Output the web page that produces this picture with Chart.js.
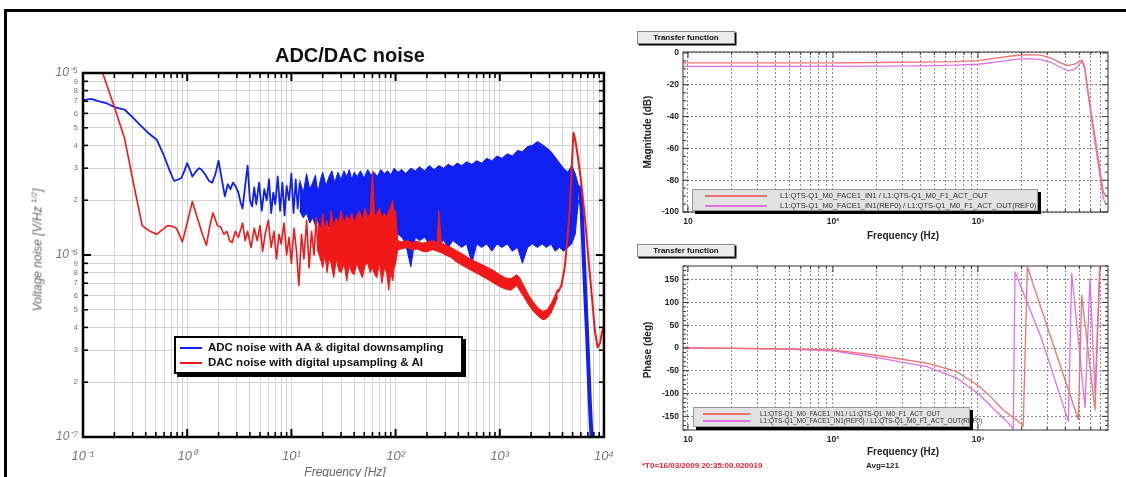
<!DOCTYPE html>
<html lang="en">
<head>
<meta charset="utf-8">
<title>ADC/DAC noise and transfer function</title>
<script src="https://cdn.jsdelivr.net/npm/chart.js@4.4.1/dist/chart.umd.min.js"></script>
<style>
  html, body { margin: 0; padding: 0; background: #fff; }
  body { position: relative; width: 1126px; height: 477px; overflow: hidden;
         font-family: "Liberation Sans", Arial, Helvetica, sans-serif; }
  canvas, .txt, .box { position: absolute; }
  #frame { position: absolute; left: 4px; top: 9px; width: 1200px; height: 600px;
           border-left: 3px solid #000; border-top: 3px solid #000; }
  #noise { left: 0; top: 0; }
  #mag { left: 620px; top: 20px; }
  #phase { left: 620px; top: 240px; }
  .txt { white-space: nowrap; line-height: 1; }
  .rot { transform: translate(-50%, -50%) rotate(-90deg); }
  .cx { transform: translateX(-50%); }
  #title { left: 200px; width: 300px; top: 45px; text-align: center; font-weight: bold; font-size: 20px; color: #111; }
  #noiseY { left: 37px; top: 250px; font-style: italic; font-size: 12px; color: #666; }
  #noiseY sup { font-size: 8px; }
  #noiseX { left: 345px; top: 466px; font-style: italic; font-size: 12px; color: #666; }
  .row { position: relative; white-space: nowrap; }
  .sw { display: inline-block; vertical-align: middle; }
  #noiseLegend { left: 174px; top: 336px; width: 285px; height: 32px; padding-top: 2px; border: 2px solid #000;
                 background: #fff; box-shadow: 3px 3px 0 #000; font-weight: bold; font-size: 11.5px; color: #111; }
  #noiseLegend .row { height: 15px; line-height: 15px; }
  #noiseLegend .sw { width: 22px; height: 2px; margin: 0 6px 0 4px; }
  .tfbtn { left: 637px; width: 96px; height: 11px; line-height: 11px; background: #ececec; border: 1px solid #888;
           box-shadow: 1.5px 1.5px 0 #000; font-weight: bold; font-size: 8px; text-align: center; color: #111; }
  .tflab { font-weight: bold; font-size: 10px; color: #222; }
  #magLegend { left: 692px; top: 189px; width: 344px; height: 19px; padding-top: 1px; background: #e2e2e2;
               border: 1px solid #999; box-shadow: 3px 3px 0 #000; font-size: 7.5px; color: #333; }
  #magLegend .row { height: 10px; line-height: 10px; }
  #magLegend .sw { width: 62px; height: 1.5px; margin: 0 13px 0 12px; }
  #phaseLegend { left: 693px; top: 407px; width: 275px; height: 16px; padding-top: 1.5px; background: #e2e2e2;
                 border: 1px solid #999; box-shadow: 3px 3px 0 #000; font-size: 6.5px; color: #333; }
  #phaseLegend .row { height: 7px; line-height: 7px; }
  #phaseLegend .sw { width: 47px; height: 1.5px; margin: 0 10px 0 9px; }
  #t0 { left: 642px; top: 462px; font-weight: bold; font-size: 8px; color: #ee2233; }
  #avg { left: 866px; top: 462px; font-weight: bold; font-size: 8px; color: #222; }
</style>
</head>
<body>
<div id="frame"></div>
<canvas id="noise" width="626" height="477"></canvas>
<canvas id="mag" width="506" height="220"></canvas>
<canvas id="phase" width="506" height="215"></canvas>

<div id="title" class="txt">ADC/DAC noise</div>
<div id="noiseY" class="txt rot">Voltage noise [V/Hz <sup>1/2</sup>]</div>
<div id="noiseX" class="txt cx">Frequency [Hz]</div>
<div id="noiseLegend" class="box">
  <div class="row"><span class="sw" style="background:#1020f0"></span>ADC noise with AA &amp; digital downsampling</div>
  <div class="row"><span class="sw" style="background:#f01818"></span>DAC noise with digital upsampling &amp; AI</div>
</div>

<div class="box tfbtn" style="top:31px">Transfer function</div>
<div class="box tfbtn" style="top:244px">Transfer function</div>
<div class="txt tflab rot" style="left:648px; top:132px">Magnitude (dB)</div>
<div class="txt tflab rot" style="left:648px; top:350px">Phase (deg)</div>
<div class="txt tflab cx" style="left:903px; top:231px">Frequency (Hz)</div>
<div class="txt tflab cx" style="left:903px; top:447px">Frequency (Hz)</div>
<div id="magLegend" class="box">
  <div class="row"><span class="sw" style="background:#f07070"></span>L1:QTS-Q1_M0_FACE1_IN1 / L1:QTS-Q1_M0_F1_ACT_OUT</div>
  <div class="row"><span class="sw" style="background:#e070e8"></span>L1:QTS-Q1_M0_FACE1_IN1(REF0) / L1:QTS-Q1_M0_F1_ACT_OUT(REF0)</div>
</div>
<div id="phaseLegend" class="box">
  <div class="row"><span class="sw" style="background:#f07070"></span>L1:QTS-Q1_M0_FACE1_IN1 / L1:QTS-Q1_M0_F1_ACT_OUT</div>
  <div class="row"><span class="sw" style="background:#e070e8"></span>L1:QTS-Q1_M0_FACE1_IN1(REF0) / L1:QTS-Q1_M0_F1_ACT_OUT(REF0)</div>
</div>
<div id="t0" class="txt">*T0=16/03/2009 20:35:00.020019</div>
<div id="avg" class="txt">Avg=121</div>

<script>
// ---- ADC/DAC noise (values in 1e-6 V/rtHz) ----
// ADC: sparse low-frequency part, dense band (upper/lower envelope), roll-off
const adcLineFreq = [0.1, 0.12, 0.14, 0.17, 0.2, 0.25, 0.3, 0.35, 0.42, 0.51,
  0.6, 0.68, 0.75, 0.82, 0.88, 0.94, 1.0, 1.06, 1.12, 1.2,
  1.3, 1.37, 1.5, 1.62, 1.74, 1.87, 2.0, 2.15, 2.3, 2.45,
  2.6, 2.75, 2.9, 3.1, 3.25, 3.4, 3.6, 3.8, 4.0, 4.2,
  4.4, 4.6, 4.9, 5.2, 5.5, 5.8, 6.1, 6.4, 6.7, 7.0,
  7.4, 7.8, 8.2, 8.6, 9.0, 9.5, 10, 10.5, 11, 11.5,
  12];
const adcLineVal = [7.1, 7.2, 7.0, 6.8, 6.5, 6.3, 5.7, 5.2, 4.7, 4.3,
  3.5, 2.9, 2.55, 2.6, 2.65, 2.9, 3.2, 2.95, 2.7, 2.85,
  3.0, 2.95, 2.75, 2.55, 2.5, 2.8, 3.3, 2.6, 2.1, 2.45,
  2.3, 2.5, 2.4, 2.2, 1.95, 1.8, 2.4, 3.1, 2.0, 1.85,
  2.35, 1.9, 2.5, 1.75, 2.3, 2.0, 2.6, 1.7, 2.2, 1.9,
  2.7, 1.75, 2.5, 1.65, 2.4, 2.0, 2.8, 1.7, 2.6, 1.8,
  2.5];
const adcBandFreq = [12, 13, 14, 15, 16, 17, 18, 19, 20, 21.5,
  23, 24.5, 26, 28, 30, 32, 34, 36, 38, 40,
  43, 46, 50, 54, 58, 62, 67, 72, 78, 84,
  90, 97, 105, 115, 125, 140, 155, 170, 190, 210,
  235, 260, 290, 320, 355, 390, 430, 480, 540, 600,
  670, 750, 840, 940, 1050, 1180, 1320, 1480, 1650, 1850,
  2050, 2300, 2550, 2800, 3100, 3400, 3750, 4100, 4500, 4900,
  5300, 5700];
const adcBandHigh = [2.6, 2.2, 2.8, 2.3, 2.5, 2.75, 2.2, 2.6, 2.85, 2.4,
  2.7, 2.9, 2.5, 2.85, 2.6, 2.9, 2.7, 2.95, 2.6, 2.85,
  2.7, 2.9, 2.65, 2.95, 2.75, 2.85, 2.7, 2.95, 2.8, 2.9,
  2.75, 3.0, 2.85, 2.95, 2.8, 3.0, 2.9, 3.05, 2.9, 3.1,
  2.95, 3.1, 3.0, 3.15, 3.05, 3.2, 3.1, 3.25, 3.15, 3.3,
  3.2, 3.4, 3.3, 3.5, 3.4, 3.6, 3.5, 3.75, 3.7, 3.95,
  4.0, 4.2, 4.05, 3.9, 3.7, 3.45, 3.2, 3.0, 2.85, 3.1,
  2.8, 2.4];
const adcBandLow = [1.75, 1.6, 1.7, 1.5, 1.6, 1.45, 1.55, 1.4, 1.5, 1.35,
  1.45, 1.3, 1.45, 1.35, 1.25, 1.4, 1.3, 1.45, 1.35, 1.25,
  1.4, 1.3, 1.35, 1.25, 1.4, 1.3, 1.2, 1.35, 1.25, 0.95,
  1.3, 1.2, 1.3, 1.25, 1.15, 0.86, 1.25, 1.2, 1.25, 1.15,
  1.2, 1.15, 1.2, 1.1, 1.2, 1.15, 1.1, 1.15, 0.9, 1.15,
  1.1, 1.15, 1.05, 1.15, 1.1, 1.15, 1.05, 1.1, 0.9, 1.1,
  1.15, 1.1, 1.15, 1.1, 1.15, 1.05, 1.1, 1.05, 1.1, 1.15,
  1.3, 2.0];
const adcRolloffFreq = [5700, 5900, 6100, 6300, 6500, 6700, 6900, 7100, 7300, 7500, 7650];
const adcRolloffVal = [2.4, 2.2, 1.8, 1.2, 0.78, 0.52, 0.36, 0.24, 0.16, 0.115, 0.095];

// DAC: low-frequency line, dense band, AI-filter peak
const dacLineFreq = [0.15, 0.2, 0.25, 0.3, 0.37, 0.44, 0.51, 0.58, 0.65, 0.72,
  0.79, 0.9, 1.0, 1.12, 1.25, 1.4, 1.53, 1.65, 1.77, 1.95,
  2.1, 2.25, 2.4, 2.55, 2.7, 2.9, 3.1, 3.4, 3.6, 3.8,
  4.1, 4.4, 4.7, 5.0, 5.3, 5.6, 6.0, 6.4, 6.8, 7.2,
  7.6, 8.0, 8.5, 9.0, 9.5, 10, 10.6, 11.2, 11.8, 12.5,
  13.2, 14, 14.8, 15.6, 16.5, 17.3, 18];
const dacLineVal = [10.5, 6.5, 4.4, 2.6, 1.45, 1.35, 1.3, 1.38, 1.45, 1.44,
  1.4, 1.18, 1.5, 1.97, 1.6, 1.3, 1.13, 1.45, 1.7, 1.45,
  1.42, 1.3, 1.35, 1.2, 1.17, 1.35, 1.25, 1.5, 1.2, 1.35,
  1.1, 1.4, 1.2, 1.45, 1.05, 1.3, 1.55, 1.1, 1.35, 0.95,
  1.3, 1.15, 1.5, 1.0, 1.25, 0.9, 1.4, 1.05, 0.68, 1.3,
  0.95, 1.55, 0.85, 1.35, 1.0, 1.6, 1.05];
const dacBandFreq = [18, 19, 20, 21, 22, 23, 24, 25.5, 27, 28.5,
  30, 32, 34, 36, 38, 40, 42.5, 45, 48, 51,
  54, 57, 60, 63, 66, 70, 74, 78, 82, 86,
  90, 94, 97, 100, 105, 115, 130, 145, 160, 180,
  200, 225, 250, 260, 275, 300, 340, 380, 430, 480,
  540, 610, 690, 780, 880, 1000, 1130, 1280, 1450, 1550,
  1700, 1900, 2100, 2350, 2600, 2850, 3100, 3350, 3600];
const dacBandHigh = [1.5, 1.35, 1.7, 1.4, 1.55, 1.3, 1.75, 1.45, 1.6, 1.5,
  1.75, 1.5, 1.65, 1.55, 1.7, 1.5, 1.65, 1.75, 1.55, 1.8,
  1.6, 1.7, 2.9, 1.6, 1.7, 1.8, 1.6, 1.7, 1.6, 1.75,
  1.85, 2.0, 1.7, 1.75, 1.2, 1.18, 1.2, 1.17, 1.19, 1.16,
  1.18, 1.2, 1.16, 1.75, 1.17, 1.14, 1.1, 1.06, 1.02, 0.98,
  0.94, 0.91, 0.88, 0.85, 0.82, 0.78, 0.75, 0.74, 0.78, 0.75,
  0.68, 0.6, 0.55, 0.51, 0.49, 0.5, 0.54, 0.59, 0.65];
const dacBandLow = [1.05, 0.95, 0.85, 1.0, 0.8, 0.95, 0.9, 0.75, 0.95, 0.82,
  0.8, 0.9, 0.72, 0.88, 0.8, 0.78, 0.9, 0.82, 0.75, 0.88,
  0.9, 0.8, 0.85, 0.78, 0.75, 0.9, 0.7, 0.85, 0.8, 0.64,
  0.8, 0.72, 0.85, 0.9, 1.07, 1.08, 1.1, 1.06, 1.08, 1.05,
  1.04, 1.07, 1.05, 1.04, 1.03, 1.0, 0.97, 0.92, 0.88, 0.85,
  0.82, 0.79, 0.76, 0.73, 0.7, 0.67, 0.65, 0.64, 0.68, 0.64,
  0.59, 0.53, 0.49, 0.46, 0.44, 0.45, 0.48, 0.53, 0.59];
const dacPeakFreq = [3600, 3900, 4200, 4500, 4700, 4900, 5100, 5300, 5600, 6000,
  6500, 7000, 7600, 8200, 8700, 9200, 9600, 10000];
const dacPeakVal = [0.62, 0.68, 0.85, 1.3, 1.8, 3.0, 4.7, 4.3, 3.5, 2.6,
  1.7, 1.05, 0.62, 0.38, 0.31, 0.33, 0.38, 0.4];

const noiseXDecades = [0.1, 1, 10, 100, 1000, 10000];
const noiseXLabels = ['10\u207B\u00B9', '10\u2070', '10\u00B9', '10\u00B2', '10\u00B3', '10\u2074'];
const noiseYDecades = [1e-7, 1e-6, 1e-5];
const noiseYLabels = ['10\u207B\u2077', '10\u207B\u2076', '10\u207B\u2075'];

// ---- Transfer function (measurement and REF0) ----
const magFreq = [9.24, 20, 50, 100, 200, 400, 700, 1000, 1400, 1800,
  2200, 2700, 3200, 3700, 4150, 4600, 4950, 5200, 5450, 5700,
  6100, 6600, 7000, 7300, 7600];
const magMeas = [-6.3, -6.3, -6.3, -6.2, -6.0, -5.8, -5.4, -4.8, -3.0, -1.6,
  -1.0, -1.4, -3.2, -6.2, -8.0, -7.2, -5.5, -4.5, -9, -22,
  -40, -60, -76, -87, -90];
const magRef = [-8.5, -8.5, -8.5, -8.4, -8.3, -8.1, -7.7, -7.1, -5.4, -4.0,
  -3.6, -4.2, -6.0, -9.0, -11.2, -10.5, -7.8, -5.2, -10, -24,
  -43, -64, -80, -91, -95];
const phaseMeasFreq = [9.24, 20, 50, 100, 210, 444, 716, 1030, 1250, 1490,
  1700, 1900, 2050, 2190, 3280, 4920, 5190, 6410, 6940];
const phaseMeas = [0, -0.5, -2, -4, -17, -33, -52, -85, -110, -136,
  -150, -161, -172, 178, 10, -157, 116, -136, 178];
const phaseRefFreq = [9.24, 20, 50, 100, 210, 444, 716, 1030, 1250, 1490,
  1620, 1750, 1800, 2750, 4200, 4430, 5470, 5920, 6410, 6900];
const phaseRef = [0, -1, -3, -6, -22, -41, -66, -103, -130, -153,
  -165, -178, 167, 20, -161, 164, -131, 153, -100, 175];

const tfXDecades = [10, 100, 1000];
const tfXLabels = ['10', '10\u00B2', '10\u00B3'];
const magYTicks = [-100, -80, -60, -40, -20, 0];
const phaseYTicks = [-150, -100, -50, 0, 50, 100, 150];

const FONT = '"Liberation Sans", Arial, sans-serif';
const BLUE = '#1020f0';
const RED = '#f01818';
const TF_RED = '#f07070';
const TF_MAGENTA = '#e070e8';

const pts = (xs, ys, k = 1) => xs.map((x, i) => ({ x, y: ys[i] * k }));
const isDecade = v => Math.abs(Math.log10(v) - Math.round(Math.log10(v))) < 1e-6;

function logTicks(decades, min, max) {
  const out = [];
  decades.forEach(d => { for (let m = 1; m <= 9; m++) out.push(m * d); });
  return out.filter(v => v >= min * 0.999 && v <= max * 1.001);
}

function labelFor(decades, labels, v) {
  const i = decades.findIndex(d => Math.abs(Math.log10(d) - Math.log10(v)) < 1e-6);
  return i < 0 ? null : labels[i];
}

// inward tick marks on all four sides plus the plot frame
const frameTicks = {
  id: 'frameTicks',
  afterDraw(chart, args, o) {
    const { ctx, chartArea: a } = chart;
    const sx = chart.scales.x, sy = chart.scales.y;
    ctx.save();
    ctx.strokeStyle = o.color;
    const mark = (x1, y1, x2, y2, w) => {
      ctx.lineWidth = w;
      ctx.beginPath(); ctx.moveTo(x1, y1); ctx.lineTo(x2, y2); ctx.stroke();
    };
    sx.ticks.forEach(t => {
      const big = isDecade(t.value);
      const len = big ? o.major : o.minor;
      const w = big ? o.majorWidth : o.minorWidth;
      const px = sx.getPixelForValue(t.value);
      mark(px, a.bottom, px, a.bottom - len, w);
      mark(px, a.top, px, a.top + len, w);
    });
    let yMarks = [];
    if (sy.type === 'logarithmic') {
      yMarks = sy.ticks.map(t => [t.value, isDecade(t.value)]);
    } else {
      for (let v = Math.ceil(sy.min / o.yMinor) * o.yMinor; v <= sy.max; v += o.yMinor) {
        yMarks.push([v, Math.abs(v % o.yMajor) < 1e-9]);
      }
    }
    yMarks.forEach(([v, big]) => {
      const py = sy.getPixelForValue(v);
      const len = big ? o.major : o.minor;
      const w = big ? o.majorWidth : o.minorWidth;
      mark(a.left, py, a.left + len, py, w);
      mark(a.right, py, a.right - len, py, w);
    });
    ctx.lineWidth = o.frame;
    ctx.strokeRect(a.left, a.top, a.right - a.left, a.bottom - a.top);
    ctx.restore();
  }
};

const noLine = { pointRadius: 0, tension: 0, borderJoinStyle: 'round' };

// ---- left: ADC/DAC noise ----
new Chart(document.getElementById('noise'), {
  type: 'line',
  data: {
    datasets: [
      { ...noLine, data: pts(dacLineFreq, dacLineVal, 1e-6), borderColor: RED, borderWidth: 1.6, fill: false },
      { ...noLine, data: pts(dacBandFreq, dacBandHigh, 1e-6), borderColor: RED, borderWidth: 1, fill: false },
      { ...noLine, data: pts(dacBandFreq, dacBandLow, 1e-6), borderColor: RED, borderWidth: 1, fill: '-1', backgroundColor: RED },
      { ...noLine, data: pts(dacPeakFreq, dacPeakVal, 1e-6), borderColor: RED, borderWidth: 2, fill: false },
      { ...noLine, data: pts(adcLineFreq, adcLineVal, 1e-6), borderColor: BLUE, borderWidth: 1.8, fill: false },
      { ...noLine, data: pts(adcBandFreq, adcBandHigh, 1e-6), borderColor: BLUE, borderWidth: 1, fill: false },
      { ...noLine, data: pts(adcBandFreq, adcBandLow, 1e-6), borderColor: BLUE, borderWidth: 1, fill: '-1', backgroundColor: BLUE },
      { ...noLine, data: pts(adcRolloffFreq, adcRolloffVal, 1e-6), borderColor: BLUE, borderWidth: 4, fill: false }
    ]
  },
  options: {
    responsive: false,
    animation: false,
    events: [],
    layout: { padding: { top: 73, right: 19, left: 0, bottom: 0 } },
    plugins: {
      legend: { display: false },
      tooltip: { enabled: false },
      frameTicks: { color: '#000', major: 8, minor: 5, majorWidth: 2, minorWidth: 1.6, frame: 2.5 }
    },
    scales: {
      x: {
        type: 'logarithmic', min: 0.1, max: 10000,
        afterBuildTicks: s => { s.ticks = logTicks(noiseXDecades, 0.1, 10000).map(v => ({ value: v })); },
        afterFit: s => { s.height = 40; },
        ticks: {
          autoSkip: false, maxRotation: 0, padding: 12, color: '#777',
          font: { family: FONT, size: 13, style: 'italic' },
          callback: v => labelFor(noiseXDecades, noiseXLabels, v) ?? ''
        },
        grid: { color: '#d4d4d4', lineWidth: 1, drawTicks: false },
        border: { display: false }
      },
      y: {
        type: 'logarithmic', min: 1e-7, max: 1e-5,
        afterBuildTicks: s => { s.ticks = logTicks(noiseYDecades, 1e-7, 1e-5).map(v => ({ value: v })); },
        afterFit: s => { s.width = 83; },
        ticks: {
          autoSkip: false, padding: 5, color: '#777',
          font: c => (c.tick && isDecade(c.tick.value))
            ? { family: FONT, size: 12, style: 'italic' }
            : { family: FONT, size: 8 },
          callback: v => labelFor(noiseYDecades, noiseYLabels, v) ??
            String(Math.round(v / Math.pow(10, Math.floor(Math.log10(v) + 1e-9))))
        },
        grid: { color: '#d4d4d4', lineWidth: 1, drawTicks: false },
        border: { display: false }
      }
    }
  },
  plugins: [frameTicks]
});

// ---- right: transfer function panels ----
function tfChart(id, series, yMin, yMax, yTicks, yMinor, yMajor, padTop, xHeight) {
  return new Chart(document.getElementById(id), {
    type: 'line',
    data: {
      datasets: series.map(s => ({ ...noLine, data: s.data, borderColor: s.color, borderWidth: 1.3, fill: false }))
    },
    options: {
      responsive: false,
      animation: false,
      events: [],
      layout: { padding: { top: padTop, right: 18, left: 0, bottom: 0 } },
      plugins: {
        legend: { display: false },
        tooltip: { enabled: false },
        frameTicks: { color: '#333', major: 6, minor: 3, majorWidth: 1, minorWidth: 1, frame: 1, yMinor, yMajor }
      },
      scales: {
        x: {
          type: 'logarithmic', min: 9.24, max: 7880,
          afterBuildTicks: s => { s.ticks = logTicks(tfXDecades, 9.24, 7880).map(v => ({ value: v })); },
          afterFit: s => { s.height = xHeight; },
          ticks: {
            autoSkip: false, maxRotation: 0, padding: 5, color: '#222',
            font: { family: FONT, size: 8.5, weight: 'bold' },
            callback: v => labelFor(tfXDecades, tfXLabels, v) ?? ''
          },
          grid: { color: '#8c8c8c', lineWidth: 1, drawTicks: false },
          border: { display: false, dash: [2, 2] }
        },
        y: {
          type: 'linear', min: yMin, max: yMax,
          afterBuildTicks: s => { s.ticks = yTicks.map(v => ({ value: v })); },
          afterFit: s => { s.width = 63; },
          ticks: {
            autoSkip: false, padding: 4, color: '#222',
            font: { family: FONT, size: 8.5, weight: 'bold' },
            callback: v => String(v)
          },
          grid: { color: '#8c8c8c', lineWidth: 1, drawTicks: false },
          border: { display: false, dash: [2, 2] }
        }
      }
    },
    plugins: [frameTicks]
  });
}

tfChart('mag', [
  { data: pts(magFreq, magMeas), color: TF_RED },
  { data: pts(magFreq, magRef), color: TF_MAGENTA }
], -100, 0.6, magYTicks, 5, 20, 32, 28);

tfChart('phase', [
  { data: pts(phaseMeasFreq, phaseMeas), color: TF_RED },
  { data: pts(phaseRefFreq, phaseRef), color: TF_MAGENTA }
], -180, 180, phaseYTicks, 10, 50, 26, 25);
</script>
</body>
</html>
